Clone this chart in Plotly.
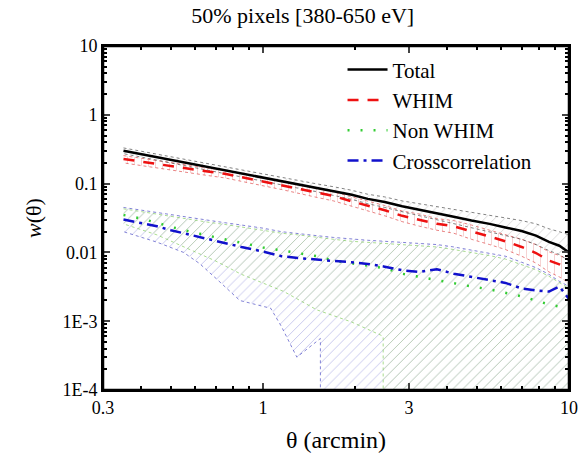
import plotly.graph_objects as go
import numpy as np

# ---------------- data ----------------
theta = [0.35, 0.4, 0.45, 0.5, 0.58, 0.66, 0.75, 0.85, 1.0, 1.15, 1.3, 1.5, 1.7, 1.95,
         2.2, 2.5, 2.85, 3.25, 3.7, 4.2, 4.8, 5.5, 6.2, 7.0, 7.8, 8.6, 9.3, 10.0]

total = [0.300, 0.268, 0.243, 0.222, 0.195, 0.175, 0.157, 0.141, 0.123, 0.109, 0.098, 0.087,
         0.078, 0.069, 0.060, 0.054, 0.047, 0.042, 0.037, 0.033, 0.029, 0.026, 0.023, 0.0205,
         0.0175, 0.0142, 0.0125, 0.0100]
total_hi = [0.330, 0.295, 0.268, 0.245, 0.216, 0.194, 0.175, 0.158, 0.138, 0.123, 0.111, 0.099,
            0.090, 0.080, 0.070, 0.064, 0.056, 0.051, 0.046, 0.042, 0.038, 0.035, 0.032, 0.029,
            0.026, 0.022, 0.020, 0.018]
total_lo = [0.272, 0.243, 0.220, 0.200, 0.175, 0.157, 0.140, 0.125, 0.109, 0.096, 0.086, 0.076,
            0.068, 0.059, 0.051, 0.045, 0.039, 0.034, 0.030, 0.026, 0.023, 0.020, 0.0175, 0.0155,
            0.013, 0.0106, 0.0093, 0.0075]

whim = [0.228, 0.210, 0.195, 0.182, 0.163, 0.150, 0.139, 0.124, 0.107, 0.095, 0.085, 0.074,
        0.066, 0.055, 0.048, 0.041, 0.034, 0.030, 0.026, 0.024, 0.020, 0.017, 0.0145, 0.012,
        0.0098, 0.0076, 0.0067, 0.0058]
whim_hi = [0.255, 0.235, 0.218, 0.204, 0.183, 0.168, 0.156, 0.139, 0.121, 0.108, 0.097, 0.085,
           0.076, 0.064, 0.056, 0.048, 0.040, 0.036, 0.031, 0.029, 0.025, 0.021, 0.018, 0.0155,
           0.013, 0.0102, 0.0090, 0.0080]
whim_lo = [0.200, 0.185, 0.171, 0.160, 0.143, 0.131, 0.121, 0.108, 0.093, 0.082, 0.073, 0.063,
           0.056, 0.046, 0.040, 0.034, 0.028, 0.024, 0.021, 0.019, 0.0155, 0.013, 0.011, 0.0088,
           0.0070, 0.0052, 0.0044, 0.0036]

nonwhim = [0.035, 0.031, 0.027, 0.0235, 0.020, 0.0178, 0.0155, 0.0138, 0.0118, 0.0107, 0.0098,
           0.0088, 0.0076, 0.0069, 0.0064, 0.0059, 0.0049, 0.0044, 0.0039, 0.0036, 0.0032,
           0.0029, 0.0026, 0.0023, 0.0020, 0.00175, 0.00163, 0.0015]
nonwhim_hi = [0.043, 0.039, 0.036, 0.033, 0.030, 0.0275, 0.0255, 0.0235, 0.021, 0.019, 0.018,
              0.0165, 0.0155, 0.0145, 0.014, 0.0135, 0.013, 0.0125, 0.012, 0.011, 0.010, 0.009,
              0.008, 0.0067, 0.0056, 0.0045, 0.0036, 0.0030]
nonwhim_lo_theta = [0.35, 0.45, 0.55, 0.7, 0.85, 1.0, 1.17, 1.5, 1.94, 2.42, 2.47, 2.471]
nonwhim_lo = [0.026, 0.018, 0.012, 0.0075, 0.0048, 0.0036, 0.0027, 0.00146, 0.00098, 0.00063,
              0.0006, 1e-6]

cross = [0.030, 0.027, 0.024, 0.021, 0.018, 0.0158, 0.0135, 0.0120, 0.0103, 0.0088, 0.0083,
         0.0078, 0.0075, 0.0072, 0.0068, 0.0062, 0.0055, 0.0052, 0.0057, 0.0049, 0.0044, 0.0040,
         0.0036, 0.0030, 0.0028, 0.0027, 0.0032, 0.0021]
cross_hi = [0.045, 0.041, 0.038, 0.035, 0.0315, 0.029, 0.027, 0.025, 0.0225, 0.020, 0.019,
            0.0175, 0.0165, 0.0155, 0.015, 0.0145, 0.014, 0.0135, 0.013, 0.012, 0.0108, 0.0098,
            0.0088, 0.0072, 0.0060, 0.0048, 0.0038, 0.0032]
cross_lo_theta = [0.35, 0.45, 0.55, 0.62, 0.71, 0.84, 1.06, 1.15, 1.29, 1.54, 1.541]
cross_lo = [0.020, 0.0141, 0.0100, 0.0069, 0.0040, 0.0020, 0.00154, 0.00083, 0.00030, 0.00056, 1e-6]

x_major = [0.3, 1, 3, 10]
x_major_text = ["0.3", "1", "3", "10"]
x_minor = [0.4, 0.5, 0.6, 0.7, 0.8, 0.9, 2, 4, 5, 6, 7, 8, 9]
y_major = [1e-4, 1e-3, 1e-2, 1e-1, 1, 10]
y_major_text = ["1E-4", "1E-3", "0.01", "0.1", "1", "10"]
y_minor = [m * 10.0 ** e for e in range(-4, 1) for m in range(2, 10)]

# ---------------- figure ----------------
FONT = "Liberation Serif, Times New Roman, serif"
fig = go.Figure()


def band(xu, yu, xl, yl, line_col, hatch_col, shape="/"):
    xs = list(xu) + [xu[-1]] + list(xl[::-1])
    ys = list(yu) + [yl[-1] if xl[-1] == xu[-1] else 1e-6] + list(yl[::-1])
    fig.add_trace(go.Scatter(
        x=xs, y=ys, mode="lines", fill="toself",
        fillcolor="rgba(0,0,0,0)",
        fillpattern=dict(shape=shape, fgcolor=hatch_col, bgcolor="rgba(0,0,0,0)",
                         size=7, solidity=0.1),
        line=dict(color=line_col, width=0.8, dash="dot"),
        showlegend=False, hoverinfo="skip"))


band(theta, cross_hi, cross_lo_theta, cross_lo, "rgba(60,60,190,0.8)", "rgba(85,85,200,0.9)")
band(theta, nonwhim_hi, nonwhim_lo_theta, nonwhim_lo, "rgba(120,200,80,0.8)", "rgba(165,220,80,0.95)")
band(theta, whim_hi, theta, whim_lo, "rgba(220,60,60,0.8)", "rgba(220,90,90,0.8)", "|")
band(theta, total_hi, theta, total_lo, "rgba(60,60,60,0.8)", "rgba(120,120,120,0.8)")

fig.add_trace(go.Scatter(x=theta, y=total, mode="lines", name="Total",
                         line=dict(color="black", width=2.5)))
fig.add_trace(go.Scatter(x=theta, y=whim, mode="lines", name="WHIM",
                         line=dict(color="#ee1111", width=2.5, dash="11px,9px")))
fig.add_trace(go.Scatter(x=theta, y=nonwhim, mode="lines", name="Non WHIM",
                         line=dict(color="#33cc33", width=2.5, dash="2px,11px")))
fig.add_trace(go.Scatter(x=theta, y=cross, mode="lines", name="Crosscorrelation",
                         line=dict(color="#1111cc", width=2.5, dash="11px,5px,3px,5px")))

fig.update_layout(
    width=581, height=458,
    margin=dict(l=103, r=12, t=46, b=68),
    paper_bgcolor="white", plot_bgcolor="white",
    font=dict(family=FONT, size=18, color="black"),
    title=dict(text="50% pixels [380-650 eV]", x=0.521, xanchor="center", y=0.967,
               yanchor="middle", font=dict(family=FONT, size=22), automargin=False),
    xaxis=dict(type="log", range=[np.log10(0.3), 1], tickmode="array", tickvals=x_major,
               ticktext=x_major_text, ticks="inside", ticklen=7, tickwidth=2,
               showline=True, linewidth=2, linecolor="black", mirror="allticks",
               showgrid=False, zeroline=False, automargin=False, tickfont=dict(size=18),
               minor=dict(tickmode="array", tickvals=x_minor, ticks="inside", ticklen=4,
                          tickwidth=1.5, tickcolor="black", showgrid=False),
               title=dict(text="θ (arcmin)", font=dict(size=24), standoff=15)),
    yaxis=dict(type="log", range=[-4, 1], tickmode="array", tickvals=y_major,
               ticktext=y_major_text, ticks="inside", ticklen=7, tickwidth=2,
               showline=True, linewidth=2, linecolor="black", mirror="allticks",
               showgrid=False, zeroline=False, automargin=False, tickfont=dict(size=18),
               minor=dict(tickmode="array", tickvals=y_minor, ticks="inside", ticklen=4,
                          tickwidth=1.5, tickcolor="black", showgrid=False),
               title=dict(text="<i>w</i>(θ)", font=dict(size=22))),
    legend=dict(x=0.514, y=0.99, xanchor="left", yanchor="top", bgcolor="rgba(0,0,0,0)",
                font=dict(family=FONT, size=21), itemwidth=40),
    shapes=[dict(type="rect", xref="paper", yref="paper", x0=0, x1=1, y0=0, y1=1,
                 line=dict(color="black", width=2.5), fillcolor="rgba(0,0,0,0)",
                 layer="above")],
)

fig.write_html("out.html", config={"displayModeBar": False},
               post_script="document.body.style.margin='0';"
                           "document.body.style.overflow='hidden';")
